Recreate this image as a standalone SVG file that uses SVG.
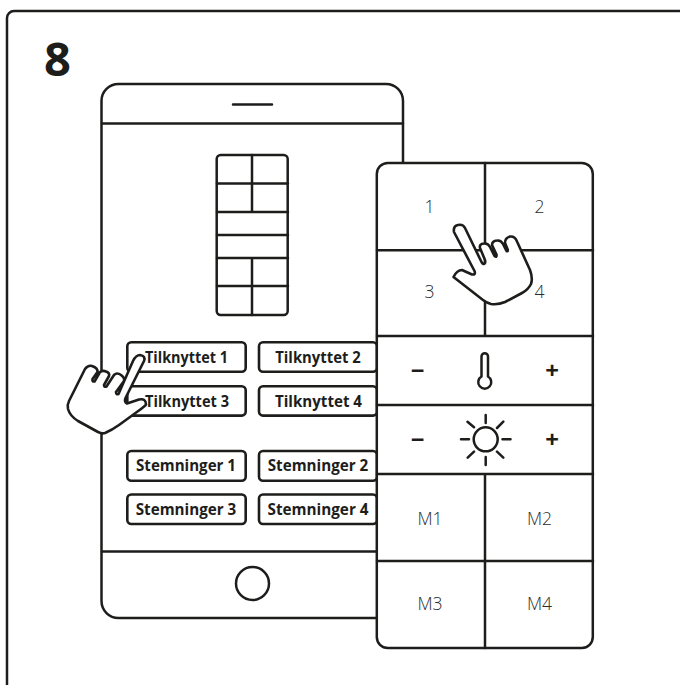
<svg xmlns="http://www.w3.org/2000/svg" width="680" height="685" viewBox="0 0 680 685">
<style>
.l{fill:none;stroke:#1d1d1b;stroke-width:2.5;stroke-linecap:round;stroke-linejoin:round}
.w{fill:#fff;stroke:#1d1d1b;stroke-width:2.5;stroke-linejoin:round}
.k{fill:#fff;stroke:#1d1d1b;stroke-width:2.6;stroke-linejoin:round}
.h{fill:#fff;stroke:#1d1d1b;stroke-width:2.6;stroke-linejoin:round;stroke-linecap:round}
.b{font-family:"Open Sans",sans-serif;font-weight:700;font-size:16px;fill:#1d1d1b;text-anchor:middle}
.t{font-family:"Open Sans",sans-serif;font-weight:300;font-size:17.500px;fill:#2b2b2a;text-anchor:middle}
.s{font-family:"Open Sans",sans-serif;font-weight:700;font-size:24px;fill:#1d1d1b;text-anchor:middle}
</style>
<path id="frame" class="l" d="M7 686V18a7 7 0 0 1 7-7H681"/>
<text x="57.500" y="75.500" font-family="Open Sans, sans-serif" font-weight="700" font-size="47" fill="#1d1d1b" text-anchor="middle">8</text>
<g id="tablet">
<rect class="w" x="101.500" y="84" width="301.500" height="534" rx="17"/>
<path class="l" d="M102 123.500H403M102 551.500H403M233 104.500H272"/>
<circle class="l" cx="252.500" cy="583.500" r="16.500"/>
</g>
<g id="layout">
<rect class="l" x="216.700" y="155" width="71" height="160" rx="4"/>
<path class="l" d="M217 183.500H288M217 212H288M217 235H288M217 258H288M217 286H288M252 155V212M252 258V315"/>
</g>
<g id="buttons">
<g id="b1"><rect class="k" x="127.300" y="342.300" width="118.400" height="29.400" rx="4"/><text class="b" x="186.500" y="363" textLength="83" lengthAdjust="spacingAndGlyphs">Tilknyttet 1</text></g>
<g id="b2"><rect class="k" x="259" y="342.300" width="118" height="29.400" rx="4"/><text class="b" x="318" y="363" textLength="85.500" lengthAdjust="spacingAndGlyphs">Tilknyttet 2</text></g>
<g id="b3"><rect class="k" x="127.300" y="386.200" width="118.400" height="29.400" rx="4"/><text class="b" x="187" y="407" textLength="84" lengthAdjust="spacingAndGlyphs">Tilknyttet 3</text></g>
<g id="b4"><rect class="k" x="259" y="386.200" width="118" height="29.400" rx="4"/><text class="b" x="318.500" y="407" textLength="87" lengthAdjust="spacingAndGlyphs">Tilknyttet 4</text></g>
<g id="b5"><rect class="k" x="127.300" y="451" width="118.400" height="29.700" rx="4"/><text class="b" x="186" y="471" textLength="100" lengthAdjust="spacingAndGlyphs">Stemninger 1</text></g>
<g id="b6"><rect class="k" x="259" y="451" width="118" height="29.700" rx="4"/><text class="b" x="318" y="471" textLength="100.500" lengthAdjust="spacingAndGlyphs">Stemninger 2</text></g>
<g id="b7"><rect class="k" x="127.300" y="494.500" width="118.400" height="29.500" rx="4"/><text class="b" x="186" y="514.500" textLength="100.500" lengthAdjust="spacingAndGlyphs">Stemninger 3</text></g>
<g id="b8"><rect class="k" x="259" y="494.500" width="118" height="29.500" rx="4"/><text class="b" x="318" y="514.500" textLength="101" lengthAdjust="spacingAndGlyphs">Stemninger 4</text></g>
</g>
<g id="panel">
<rect class="w" x="376.800" y="163" width="216" height="485" rx="11"/>
<path class="l" d="M377 250.300H593M377 336H593M377 405H593M377 474H593M377 561H593M485 163V336M485 474V648"/>
<text class="t" x="429.500" y="212.500">1</text><text class="t" x="539.500" y="212.500">2</text>
<text class="t" x="429.500" y="298">3</text><text class="t" x="539.500" y="298">4</text>
<text class="t" x="430" y="525">M1</text><text class="t" x="539.500" y="525">M2</text>
<text class="t" x="430" y="609.500">M3</text><text class="t" x="539.500" y="609.500">M4</text>
<text class="s" x="417.500" y="379">−</text><text class="s" x="552" y="379">+</text>
<text class="s" x="417.500" y="448">−</text><text class="s" x="552" y="448">+</text>
<path class="l" d="M481.500 356.500a3.250 3.250 0 0 1 6.500 0V376.500a6.500 6.500 0 1 1-6.500 0Z"/>
<circle class="l" cx="485.700" cy="439.300" r="12"/>
<path class="l" d="M485.700 415V423M485.700 457V465M461 439.300H469M502.500 439.300H510.500M467.500 421.700L474 427.300M497 451.700L503.300 457.700M503.300 421.700L497 428M474 451.700L467.700 457.700"/>
</g>
<g id="hand-left">
<path class="h" d="M133 361Q136 355 140 355Q146 356 144 361L125.500 398Q124 402 127 403.500L139 399.500Q146 398 146 404.500Q145 406 141 409L119 425Q112 430 105 433Q102 434 98 432L78 421Q70 416 68 409Q67 405 69 401L85 369Q88 365 92 366Q98 368 97.500 372L92.500 379Q92 382 94.500 381.500L100 372Q103 370 106 371.500Q110 373 109 376L104 385Q104 387.500 106.500 386.500L114 375Q117 372 121 375Q125 378 124 381L116 392Q116 395 118.500 394Z"/>
</g>
<g id="hand-right">
<path class="h" d="M454 232Q453 226 458 225Q463 224 465 228L481.500 262Q483.500 265.500 485 263Q485.500 262 485 260L480 248Q479 244 484 243.500Q488 243 490 247L494.500 256Q497 258 496.500 254.500L492 245Q492 241 497 240.500Q501 240 503 244L506.500 251Q508.500 252 507.500 249L505 243Q505 238 510 236.500Q515 236 517 241.500L530 270Q533 278 531 284Q528 290 522 293L505 302Q498 305 491 304Q487 303 483 300L453.500 277Q457 270 462 270L472 274.500Q476 275 474.500 271Z"/>
</g>
</svg>
